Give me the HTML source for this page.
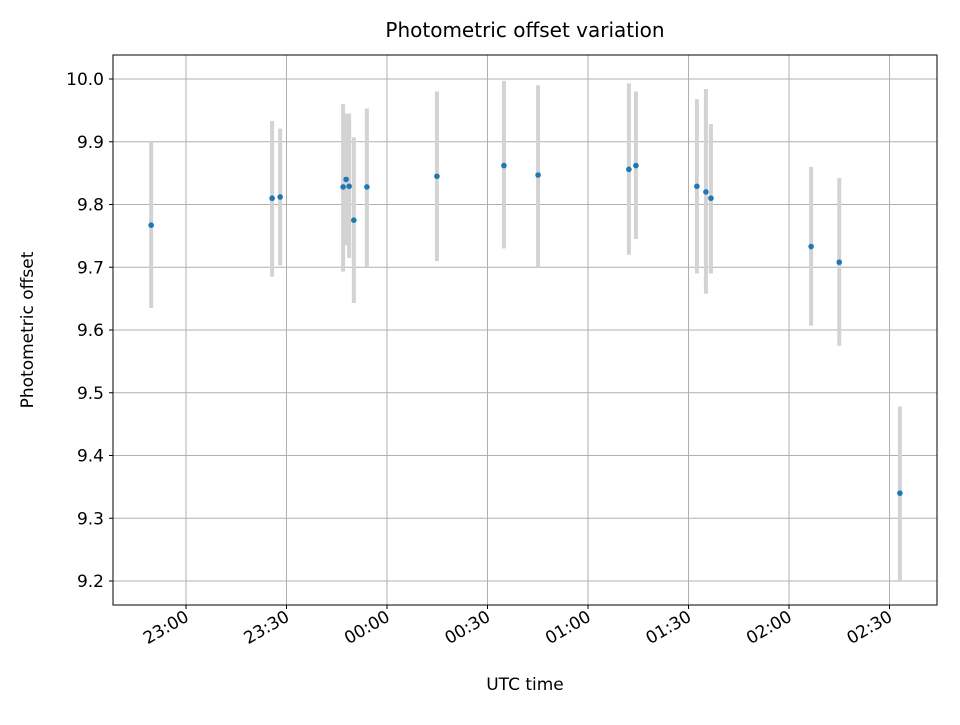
<!DOCTYPE html>
<html><head><meta charset="utf-8"><style>
body{margin:0;background:#fff;font-family:"Liberation Sans","DejaVu Sans",sans-serif}
svg text{font-family:"DejaVu Sans","Liberation Sans",sans-serif;fill:#000}
</style></head><body>
<svg id="chart" width="960" height="720" xmlns="http://www.w3.org/2000/svg">
<text x="525" y="37" style="font-size:20px" text-anchor="middle">Photometric offset variation</text>
<text x="525" y="690" style="font-size:17px" text-anchor="middle">UTC time</text>
<text x="33" y="330" style="font-size:17px" text-anchor="middle" transform="rotate(-90 33 330)">Photometric offset</text>
<g id="grid"></g><g id="errs"></g><g id="pts"></g><g id="ticks"></g>
<rect x="113" y="55" width="824" height="550" fill="none" stroke="#000" stroke-width="1"/>
</svg>
<script>
// minutes relative to 23:00 UTC
const times=[-10.4,25.7,28.1,46.9,47.8,48.7,50.1,54.0,74.9,94.9,105.1,132.2,134.3,152.5,155.2,156.7,186.6,195.0,213.1];
const offsets=[9.767,9.810,9.812,9.828,9.840,9.829,9.775,9.828,9.845,9.862,9.847,9.856,9.862,9.829,9.820,9.810,9.733,9.708,9.340];
const errLow=[9.635,9.685,9.703,9.693,9.735,9.715,9.643,9.700,9.710,9.730,9.700,9.720,9.745,9.690,9.658,9.690,9.607,9.575,9.200];
const errHigh=[9.900,9.933,9.921,9.960,9.945,9.945,9.907,9.953,9.980,9.997,9.990,9.993,9.980,9.968,9.984,9.928,9.860,9.842,9.478];
const xTickMins=[0,30,60,90,120,150,180,210];
const xTickLabels=["23:00","23:30","00:00","00:30","01:00","01:30","02:00","02:30"];
const yTicks=[9.2,9.3,9.4,9.5,9.6,9.7,9.8,9.9,10.0];
const xs=m=>186+(m)*(100.5/30);
const ys=v=>581-(v-9.2)*(502/0.8);
const NS="http://www.w3.org/2000/svg";
function mk(t,a,p){const e=document.createElementNS(NS,t);for(const k in a)e.setAttribute(k,a[k]);document.getElementById(p).appendChild(e);return e;}
yTicks.forEach(v=>{const y=ys(v);
 const g=mk('line',{x1:113,x2:937,y1:y,y2:y,stroke:'#b0b0b0','stroke-width':1},'grid');
 
 const tk=mk('line',{x1:109,x2:113,y1:y,y2:y,stroke:'#000'},'ticks');
 
 const t=mk('text',{x:104,y:y+6,style:'font-size:17px','text-anchor':'end'},'ticks');t.textContent=v.toFixed(1);
 });
xTickMins.forEach((m,i)=>{const x=xs(m);
 const g=mk('line',{x1:x,x2:x,y1:55,y2:605,stroke:'#b0b0b0','stroke-width':1},'grid');
 
 const tk=mk('line',{x1:x,x2:x,y1:605,y2:609,stroke:'#000'},'ticks');
 
 const t=mk('text',{x:x+4,y:620,style:'font-size:17px','text-anchor':'end',transform:`rotate(-30 ${x+4} 620)`},'ticks');t.textContent=xTickLabels[i];
 });
times.forEach((m,i)=>{const x=xs(m);
 const e=mk('line',{x1:x,x2:x,y1:ys(errLow[i]),y2:ys(errHigh[i]),stroke:'#d3d3d3','stroke-width':4},'errs');
 
 const c=mk('circle',{cx:x,cy:ys(offsets[i]),r:2.8,fill:'#1f77b4'},'pts');
 });
</script>
</body></html>
